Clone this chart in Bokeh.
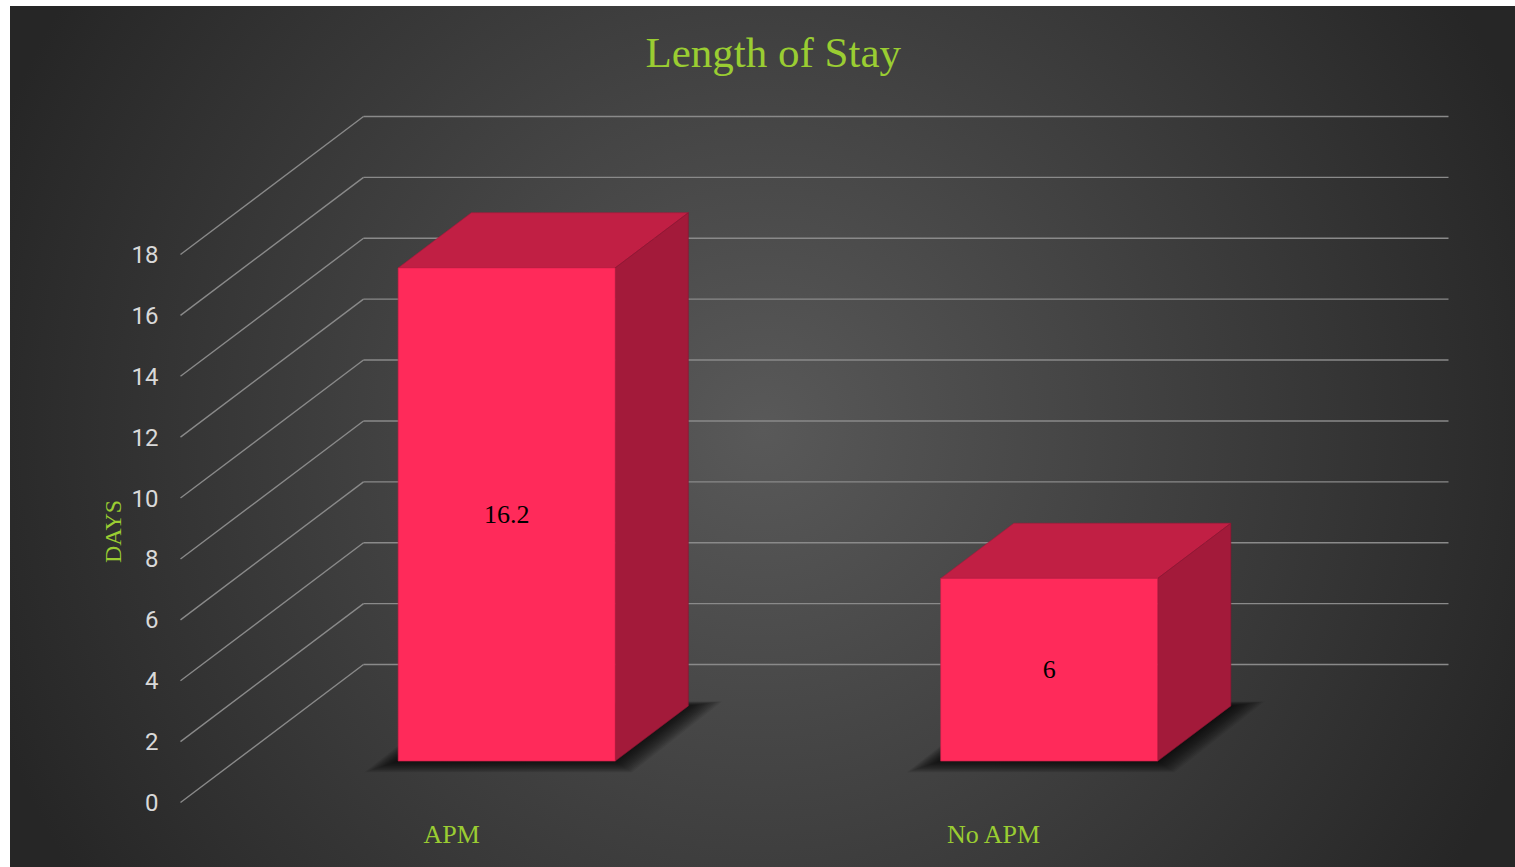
import math
from bokeh.plotting import figure
from bokeh.models import Range1d, FixedTicker
from bokeh.embed import file_html
from bokeh.resources import INLINE
from bokeh.core.properties import value

# ---------------- data ----------------
categories = ["APM", "No APM"]
days = [16.2, 6]
y_ticks = [0, 2, 4, 6, 8, 10, 12, 14, 16, 18]
title_text = "Length of Stay"
y_title = "DAYS"

# ---------------- layout constants (pixels) ----------------
W, H = 1515, 867
PX_CAT = 542.5          # px per category on the front plane
PX_VAL = 30.444         # px per day
ORIGIN_X, ORIGIN_Y = 180, 802   # px of (x=0, y=0) on front plane
DEPTH_PX_X, DEPTH_PX_Y = 183, 138
F_LEFT, F_RIGHT, F_TOP, F_BOTTOM = 175, 1515, 85, 815
YTITLE_PAD = 27   # non-breaking spaces that move the axis title down to the tick span centre

DX = DEPTH_PX_X / PX_CAT
DY = DEPTH_PX_Y / PX_VAL
BAR_LO, BAR_HI = 0.3, 0.7   # fraction of a category
D0, D1 = 0.3, 0.7           # depth fraction of the bars

GREEN = "#9acd32"
FRONT, TOP, SIDE = "#ff2a5a", "#c11f44", "#a31a3a"
GRID = "#8a8a8a"

x_range = Range1d((F_LEFT - ORIGIN_X) / PX_CAT, (F_RIGHT - ORIGIN_X) / PX_CAT)
y_range = Range1d((ORIGIN_Y - F_BOTTOM) / PX_VAL, (ORIGIN_Y - F_TOP) / PX_VAL)

p = figure(width=W, height=H, x_range=x_range, y_range=y_range,
           output_backend="svg", toolbar_location=None,
           min_border_left=F_LEFT, min_border_right=W - F_RIGHT,
           min_border_top=F_TOP, min_border_bottom=H - F_BOTTOM)
p.grid.visible = False
p.outline_line_color = None
p.background_fill_color = None
p.border_fill_color = None
p.styles = {
    "background-color": "#ffffff",
    "background-image": "radial-gradient(circle at 752px 424px, #595959 0px, #262626 820px)",
    "background-size": "1505px 861px",
    "background-position": "10px 6px",
    "background-repeat": "no-repeat",
}

# title
p.title.text = title_text
p.title.align = "left"
p.title.offset = 470
p.title.standoff = 19
p.title.text_font = "Liberation Serif"
p.title.text_font_size = "43px"
p.title.text_font_style = "normal"
p.title.text_color = GREEN

# y axis
ya = p.yaxis[0]
ya.ticker = FixedTicker(ticks=y_ticks)
ya.axis_line_color = None
ya.major_tick_line_color = None
ya.minor_tick_line_color = None
ya.major_tick_out = 0
ya.major_tick_in = 0
ya.major_label_standoff = 17
ya.major_label_text_font = "Roboto"
ya.major_label_text_font_size = "24px"
ya.major_label_text_color = "#d9d9d9"
ya.axis_label = y_title + "\u00a0" * YTITLE_PAD
ya.axis_label_standoff = 3
ya.axis_label_text_font = "Liberation Serif"
ya.axis_label_text_font_size = "24px"
ya.axis_label_text_font_style = "normal"
ya.axis_label_text_color = GREEN

# x axis
xa = p.xaxis[0]
cat_ticks = [i + 0.5 for i in range(len(categories))]
xa.ticker = FixedTicker(ticks=cat_ticks)
xa.major_label_overrides = {t: c for t, c in zip(cat_ticks, categories)}
xa.axis_line_color = None
xa.major_tick_line_color = None
xa.minor_tick_line_color = None
xa.major_tick_out = 0
xa.major_tick_in = 0
xa.major_label_standoff = 4
xa.major_label_text_font = "Liberation Serif"
xa.major_label_text_font_size = "26px"
xa.major_label_text_color = GREEN

n = len(y_ticks)
ncat = len(categories)
# back wall grid lines
p.segment(x0=[DX] * n, y0=[v + DY for v in y_ticks], x1=[ncat + DX] * n,
          y1=[v + DY for v in y_ticks], line_color=GRID, line_width=1.4)
# side wall grid lines
p.segment(x0=[0] * n, y0=y_ticks, x1=[DX] * n, y1=[v + DY for v in y_ticks],
          line_color=GRID, line_width=1.4)

# soft shadows on the floor
sh_xs, sh_ys = [], []
for i, v in enumerate(days):
    x0, x1 = i + BAR_LO, i + BAR_HI
    for k in range(1, 15):
        ex = k * 2.4 / PX_CAT
        ey = k * 0.8 / PX_VAL
        sh_xs.append([x0 + D0 * DX - ex, x1 + D0 * DX + ex * 0.5, x1 + D1 * DX + ex, x0 + D1 * DX - ex * 0.5])
        sh_ys.append([D0 * DY - ey, D0 * DY - ey, D1 * DY + ey * 0.4, D1 * DY + ey * 0.4])
p.patches(sh_xs, sh_ys, fill_color="black", fill_alpha=0.07, line_color=None)

# bars
top_xs, top_ys, side_xs, side_ys = [], [], [], []
fl, fr, fb, ft = [], [], [], []
for i, v in enumerate(days):
    x0, x1 = i + BAR_LO, i + BAR_HI
    top_xs.append([x0 + D0 * DX, x1 + D0 * DX, x1 + D1 * DX, x0 + D1 * DX])
    top_ys.append([v + D0 * DY, v + D0 * DY, v + D1 * DY, v + D1 * DY])
    side_xs.append([x1 + D0 * DX, x1 + D1 * DX, x1 + D1 * DX, x1 + D0 * DX])
    side_ys.append([D0 * DY, D1 * DY, v + D1 * DY, v + D0 * DY])
    fl.append(x0 + D0 * DX)
    fr.append(x1 + D0 * DX)
    fb.append(D0 * DY)
    ft.append(v + D0 * DY)
p.patches(top_xs, top_ys, fill_color=TOP, line_color="#a8183a", line_width=1, line_alpha=0.6)
p.patches(side_xs, side_ys, fill_color=SIDE, line_color="#8a1431", line_width=1, line_alpha=0.6)
p.quad(left=fl, right=fr, bottom=fb, top=ft, fill_color=FRONT, line_color="#c81f47",
       line_width=1, line_alpha=0.6)

# data labels
p.text(x=[i + 0.5 + D0 * DX for i in range(ncat)],
       y=[v / 2 + D0 * DY for v in days],
       text=[f"{v:g}" for v in days],
       text_font=value("Liberation Serif"), text_font_size="26px",
       text_color="#000000", text_align="center", text_baseline="middle")

open("out.html", "w").write(file_html(p, INLINE))
